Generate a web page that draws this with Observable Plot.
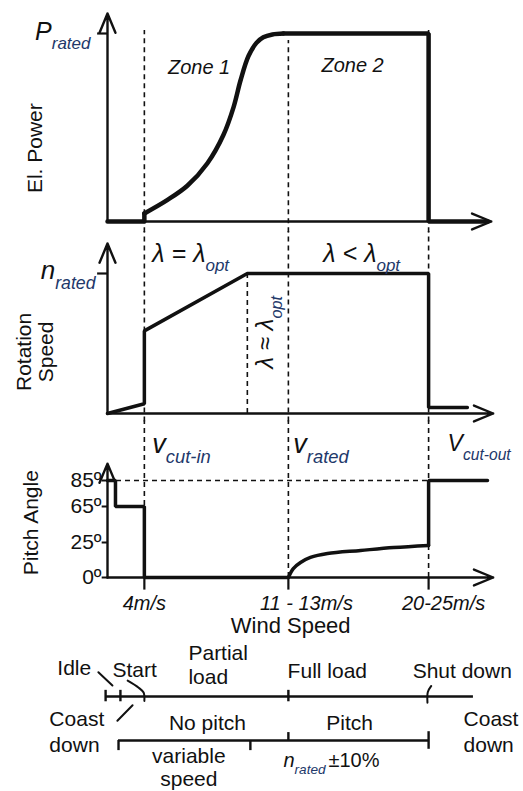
<!DOCTYPE html>
<html>
<head>
<meta charset="utf-8">
<script src="https://cdn.jsdelivr.net/npm/d3@7"></script>
<script src="https://cdn.jsdelivr.net/npm/@observablehq/plot@0.6"></script>
<style>
  html, body { margin: 0; padding: 0; background: #fff; }
  #chart svg { display: block; }
</style>
</head>
<body>
<div id="chart"></div>
<script>
// ---------- DATA (schematic wind-speed position, 0 = origin, 100 = axis end) ----------
const markerNames = ["cut-in", "lambda-opt", "rated", "cut-out"];
const markerPos   = [9.7, 36.8, 47.6, 84.5];
const [cutIn, lambdaOpt, rated, cutOut] = markerPos;

// Electrical power (fraction of P_rated)
const powerIdleWind  = [0, 9.7, 9.7];
const powerIdleValue = [0, 0, 0.043];
const powerRiseWind  = [9.7, 15.8, 21, 26.3, 30.5, 33.2, 35, 37.1, 39.2, 41, 43.4, 46.3];
const powerRiseValue = [0.043, 0.115, 0.19, 0.31, 0.46, 0.61, 0.75, 0.88, 0.95, 0.98, 0.995, 1];
const powerRatedWind  = [46.3, 84.5, 84.5, 100];
const powerRatedValue = [1, 1, 0, 0];

// Rotation speed (fraction of n_rated)
const rotWind  = [0, 9.7, 9.7, 36.8, 84.5, 84.5, 94.7];
const rotValue = [0, 0.07, 0.59, 1, 1, 0.043, 0.043];

// Pitch angle (degrees)
const pitchTicks = [0, 25, 65, 85];
const pitchStepWind  = [0, 2.1, 2.1, 9.7, 9.7, 47.6];
const pitchStepValue = [85, 85, 65, 65, 0, 0];
const pitchRiseWind  = [47.6, 48.9, 50.8, 53.4, 57.9, 66.6, 75.3, 84.5];
const pitchRiseValue = [0, 6.4, 10.7, 14.3, 17.1, 19.3, 21.4, 22.9];
const pitchHighWind  = [84.5, 84.5, 100];
const pitchHighValue = [22.9, 85, 85];

const windTickLabels = ["4m/s", "11 - 13m/s", "20-25m/s"];
const windTickPos    = [cutIn, rated, cutOut];

// Operating-state timeline labels
const stateLabels   = ["Idle", "Start", "Partial\nload", "Full load", "Shut down"];
const controlLabels = ["Coast\ndown", "No pitch", "Pitch", "Coast\ndown"];
const speedLabels   = ["variable\nspeed", "n_{rated}", "±10%"];

// ---------- HELPERS ----------
const FONT = "'Liberation Sans', Arial, Helvetica, sans-serif";
const INK = "#111";
const SUB = "#22386a";
const dash = {stroke: INK, strokeWidth: 1.6, strokeDasharray: "5,4"};
const zip = (a, b) => a.map((v, i) => [v, b[i]]);

function subscriptify(root) {
  root.querySelectorAll("text").forEach(t => {
    const s = t.textContent;
    if (!s.includes("_{")) return;
    while (t.firstChild) t.removeChild(t.firstChild);
    const parts = s.split(/(_\{[^}]*\})/);
    let shifted = false;
    for (const p of parts) {
      if (!p) continue;
      const ts = document.createElementNS("http://www.w3.org/2000/svg", "tspan");
      if (p.startsWith("_{")) {
        ts.textContent = p.slice(2, -1);
        ts.setAttribute("font-size", "0.68em");
        ts.setAttribute("dy", "0.55em");
        ts.setAttribute("fill", SUB);
        shifted = true;
      } else {
        ts.textContent = p;
        if (shifted) { ts.setAttribute("dy", "-0.374em"); shifted = false; }
      }
      t.appendChild(ts);
    }
  });
}

function axisArrow(x1, y1, x2, y2) {
  return Plot.arrow([{x1, y1, x2, y2}], {
    x1: "x1", y1: "y1", x2: "x2", y2: "y2",
    stroke: INK, strokeWidth: 2.4, headLength: 13, headAngle: 45
  });
}

function panel({height, marginTop, marginBottom, y, marks}) {
  const svg = Plot.plot({
    width: 523, height, marginLeft: 107, marginRight: 36, marginTop, marginBottom,
    x: {type: "linear", domain: [0, 100], axis: null},
    y: {type: "linear", ...y, axis: null},
    style: {fontFamily: FONT, color: INK, background: "white", overflow: "visible"},
    marks
  });
  subscriptify(svg);
  document.getElementById("chart").appendChild(svg);
}

// ---------- PANEL 1: ELECTRICAL POWER ----------
panel({
  height: 232, marginTop: 33, marginBottom: 11,
  y: {domain: [0, 1]},
  marks: [
    Plot.ruleX([cutIn, cutOut], {y1: -0.06, y2: 1.016, ...dash}),
    Plot.ruleX([rated], {y1: -0.06, y2: 0.963, ...dash}),
    axisArrow(0, 0, 101, 0),
    axisArrow(0, 0, 0, 1.106),
    Plot.ruleY([1], {x1: -2.6, x2: 0, stroke: INK, strokeWidth: 2.2}),
    Plot.text(["P_{rated}"], {text: d => d, x: 0, y: 1, dx: -17, dy: -2, textAnchor: "end",
      fontSize: 25, fontStyle: "italic", fill: INK}),
    Plot.text(["El. Power"], {text: d => d, x: -19, y: 0.39, rotate: -90, fontSize: 21, fill: INK}),
    Plot.line(zip(powerIdleWind, powerIdleValue), {stroke: INK, strokeWidth: 4.5, strokeLinejoin: "round", strokeLinecap: "round"}),
    Plot.line(zip(powerRiseWind, powerRiseValue), {stroke: INK, strokeWidth: 4.5, curve: "catmull-rom", strokeLinecap: "round"}),
    Plot.line(zip(powerRatedWind, powerRatedValue), {stroke: INK, strokeWidth: 4.5, strokeLinejoin: "miter", strokeLinecap: "round"}),
    Plot.text(["Zone 1"], {text: d => d, x: 24.1, y: 0.82, fontSize: 20, fontStyle: "italic", fill: INK}),
    Plot.text(["Zone 2"], {text: d => d, x: 64.5, y: 0.83, fontSize: 20, fontStyle: "italic", fill: INK})
  ]
});

// ---------- PANEL 2: ROTATION SPEED ----------
panel({
  height: 188, marginTop: 41, marginBottom: 7,
  y: {domain: [0, 1]},
  marks: [
    Plot.ruleX([cutIn, rated, cutOut], {y1: -0.06, y2: 1.3, ...dash}),
    Plot.ruleX([lambdaOpt], {y1: 0, y2: 1, ...dash}),
    axisArrow(0, 0, 101.5, 0),
    axisArrow(0, 0, 0, 1.214),
    Plot.ruleY([1], {x1: -2.6, x2: 0, stroke: INK, strokeWidth: 2.2}),
    Plot.text(["n_{rated}"], {text: d => d, x: 0, y: 1, dx: -12, dy: -3, textAnchor: "end",
      fontSize: 26, fontStyle: "italic", fill: INK}),
    Plot.text(["Rotation\nSpeed"], {text: d => d, x: -19.2, y: 0.44, rotate: -90, fontSize: 21,
      lineHeight: 1.05, fill: INK}),
    Plot.line(zip(rotWind, rotValue), {stroke: INK, strokeWidth: 3.5, strokeLinejoin: "miter"}),
    Plot.text(["λ = λ_{opt}"], {text: d => d, x: 11.8, y: 1.14, textAnchor: "start", fontSize: 25, fontStyle: "italic", fill: INK}),
    Plot.text(["λ < λ_{opt}"], {text: d => d, x: 56.8, y: 1.14, textAnchor: "start", fontSize: 25, fontStyle: "italic", fill: INK}),
    Plot.text(["λ ≈ λ_{opt}"], {text: d => d, x: 41.6, y: 0.58, rotate: -90, fontSize: 24, fontStyle: "italic", fill: INK})
  ]
});

// ---------- PANEL 3: PITCH ANGLE ----------
panel({
  height: 215, marginTop: 60, marginBottom: 58,
  y: {domain: pitchTicks, range: [157, 122, 86, 60]},
  marks: [
    Plot.ruleX([cutIn, rated, cutOut], {y1: 0, y2: 131, ...dash}),
    Plot.ruleY([85], {x1: 0, x2: cutOut, ...dash}),
    Plot.ruleX(windTickPos, {y1: 0, y2: -9, stroke: INK, strokeWidth: 2.2}),
    axisArrow(0, 0, 101.5, 0),
    axisArrow(0, 0, 0, 98),
    Plot.ruleY(pitchTicks, {x1: -1.4, x2: 0, stroke: INK, strokeWidth: 2}),
    Plot.text(pitchTicks, {text: d => d + "º", x: 0, y: d => d, dx: -6, textAnchor: "end", fontSize: 21, fill: INK}),
    Plot.text(["Pitch Angle"], {text: d => d, x: -20, y: 47, rotate: -90, fontSize: 21, fill: INK}),
    Plot.line(zip(pitchStepWind, pitchStepValue), {stroke: INK, strokeWidth: 3.5, strokeLinejoin: "miter"}),
    Plot.line(zip(pitchRiseWind, pitchRiseValue), {stroke: INK, strokeWidth: 3.5, curve: "catmull-rom"}),
    Plot.line(zip(pitchHighWind, pitchHighValue), {stroke: INK, strokeWidth: 3.5, strokeLinejoin: "miter"}),
    Plot.text(["v_{cut-in}"], {text: d => d, x: 11.8, y: 113, textAnchor: "start", fontSize: 27, fontStyle: "italic", fill: INK}),
    Plot.text(["v_{rated}"], {text: d => d, x: 48.9, y: 113, textAnchor: "start", fontSize: 27, fontStyle: "italic", fill: INK}),
    Plot.text(["V_{cut-out}"], {text: d => d, x: 89.5, y: 113, textAnchor: "start", fontSize: 23, fontStyle: "italic", fill: INK}),
    Plot.text([windTickLabels[0]], {text: d => d, x: windTickPos[0], y: 0, dy: 26, fontSize: 20, fontStyle: "italic", fill: INK}),
    Plot.text([windTickLabels[1]], {text: d => d, x: windTickPos[1], y: 0, dy: 26, dx: 18, fontSize: 20, fontStyle: "italic", fill: INK}),
    Plot.text([windTickLabels[2]], {text: d => d, x: windTickPos[2], y: 0, dy: 26, dx: 15, fontSize: 20, fontStyle: "italic", fill: INK}),
    Plot.text(["Wind Speed"], {text: d => d, x: 48.2, y: 0, dy: 48, fontSize: 22, fill: INK})
  ]
});

// ---------- PANEL 4: OPERATING STATES ----------
const T = {fontSize: 21, fill: INK, lineHeight: 1.18};
const lineStyle = {stroke: INK, strokeWidth: 2.4};
panel({
  height: 156, marginTop: 61, marginBottom: 51,
  y: {domain: [0, 1], reverse: true},
  marks: [
    // state line
    Plot.ruleY([0], {x1: -0.5, x2: 96.3, ...lineStyle}),
    Plot.ruleX([-0.5, 3.4, rated], {y1: -0.14, y2: 0.12, ...lineStyle}),
    Plot.line([[-2.4, -0.55], [1.3, -0.25]], {...lineStyle, strokeWidth: 2}),
    Plot.line([[5.3, -0.36], [8.2, -0.2], [9.5, -0.09], [9.7, 0.1]], {...lineStyle, strokeWidth: 2, curve: "catmull-rom"}),
    Plot.line([[2.6, 0.55], [6.6, 0.2]], {...lineStyle, strokeWidth: 2}),
    Plot.line([[85.2, -0.24], [84.3, -0.1], [84.2, 0.14]], {...lineStyle, strokeWidth: 2, curve: "catmull-rom"}),
    // control bracket
    Plot.ruleY([1], {x1: 2.9, x2: cutOut, ...lineStyle}),
    Plot.ruleX([2.9, 37.6], {y1: 1, y2: 1.23, ...lineStyle}),
    Plot.ruleX([rated], {y1: 0.82, y2: 1, ...lineStyle}),
    Plot.ruleX([cutOut], {y1: 0.8, y2: 1.2, ...lineStyle}),
    // labels
    Plot.text([stateLabels[0]], {text: d => d, x: -13.2, y: -0.67, textAnchor: "start", ...T}),
    Plot.text([stateLabels[1]], {text: d => d, x: 1.3, y: -0.63, textAnchor: "start", ...T}),
    Plot.text([stateLabels[2]], {text: d => d, x: 21.3, y: -0.73, textAnchor: "start", ...T, lineHeight: 1.14}),
    Plot.text([stateLabels[3]], {text: d => d, x: 47.4, y: -0.59, textAnchor: "start", ...T}),
    Plot.text([stateLabels[4]], {text: d => d, x: 80.3, y: -0.59, textAnchor: "start", ...T}),
    Plot.text([controlLabels[0]], {text: d => d, x: -15.3, y: 0.77, textAnchor: "start", ...T, lineHeight: 1.24}),
    Plot.text([controlLabels[1]], {text: d => d, x: 26.3, y: 0.57, ...T}),
    Plot.text([controlLabels[2]], {text: d => d, x: 63.7, y: 0.57, ...T}),
    Plot.text([controlLabels[3]], {text: d => d, x: 93.7, y: 0.77, textAnchor: "start", ...T, lineHeight: 1.24}),
    Plot.text([speedLabels[0]], {text: d => d, x: 21.4, y: 1.6, ...T, lineHeight: 1.1}),
    Plot.text([speedLabels[1]], {text: d => d, x: 46.3, y: 1.45, textAnchor: "start", fontSize: 20, fontStyle: "italic", fill: INK}),
    Plot.text([speedLabels[2]], {text: d => d, x: 46.3, y: 1.45, dx: 45, textAnchor: "start", fontSize: 20, fill: INK})
  ]
});
</script>
</body>
</html>
